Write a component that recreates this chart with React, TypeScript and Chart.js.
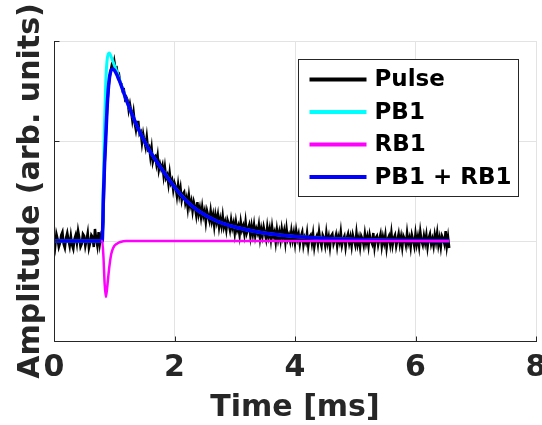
import React, { useEffect, useRef } from "react";
import { Chart, registerables } from "chart.js";

Chart.register(...registerables);

// ---- Data ----
const seriesLabels = ["Pulse", "PB1", "RB1", "PB1 + RB1"];
const seriesColors = ["#000000", "#00ffff", "#ff00ff", "#0000ff"];

const xTicks = [0, 2, 4, 6, 8];
const yTicks = [-1, 0, 1, 2];

// measured pulse, sampled every 0.02 ms from 0 ms
const pulseStart = 0;
const pulseStep = 0.02;
const pulseValues = [
  // 0.00 - 0.80 baseline
  0.04, -0.05, 0.07, 0.02, -0.06, -0.02, 0.06, 0.09, -0.03, -0.07,
  0.03, 0.08, 0.01, -0.05, 0.05, -0.04, -0.08, 0.02, 0.06, -0.02,
  0.10, 0.03, -0.06, -0.03, 0.07, 0.05, -0.05, 0.01, 0.08, -0.07,
  -0.02, 0.06, 0.04, -0.06, 0.12, 0.02, -0.05, 0.09, -0.03, 0.05,
  0.01,
  // 0.82 - 1.20 rise and peak
  0.20, 0.75, 1.05, 1.30, 1.50, 1.62, 1.70, 1.76, 1.74, 1.80,
  1.72, 1.73, 1.64, 1.66, 1.58, 1.57, 1.50, 1.51, 1.42, 1.44,
  // 1.22 - 4.00 decay
  1.41, 1.31, 1.37, 1.30, 1.21, 1.29, 1.18, 1.11, 1.19, 1.19,
  1.07, 1.09, 0.98, 1.07, 1.00, 0.94, 1.04, 0.92, 0.94, 0.84,
  0.93, 0.79, 0.84, 0.85, 0.77, 0.85, 0.71, 0.77, 0.72, 0.76,
  0.65, 0.74, 0.63, 0.66, 0.57, 0.68, 0.58, 0.61, 0.51, 0.58,
  0.54, 0.45, 0.56, 0.46, 0.53, 0.41, 0.47, 0.49, 0.38, 0.43,
  0.33, 0.45, 0.35, 0.40, 0.30, 0.39, 0.34, 0.26, 0.39, 0.27,
  0.33, 0.24, 0.34, 0.25, 0.30, 0.19, 0.30, 0.25, 0.20, 0.30,
  0.20, 0.26, 0.15, 0.26, 0.19, 0.26, 0.14, 0.22, 0.15, 0.25,
  0.14, 0.19, 0.11, 0.21, 0.17, 0.11, 0.21, 0.13, 0.18, 0.08,
  0.19, 0.11, 0.15, 0.06, 0.19, 0.11, 0.15, 0.07, 0.19, 0.08,
  0.12, 0.16, 0.05, 0.15, 0.07, 0.16, 0.05, 0.12, 0.08, 0.16,
  0.03, 0.12, 0.05, 0.14, 0.08, 0.02, 0.14, 0.05, 0.12, 0.02,
  0.14, 0.05, 0.09, -0.01, 0.11, 0.02, 0.09, 0.01, 0.12, 0.04,
  0.10, -0.01, 0.12, 0.02, 0.06, 0.00, 0.10, 0.01, 0.08, -0.02,
  // 4.02 - 6.56 tail
  0.10, 0.02, 0.07, -0.03, 0.05, 0.09, -0.04, 0.03, -0.01, 0.08,
  -0.05, 0.04, 0.06, -0.02, 0.07, -0.06, 0.02, 0.05, -0.03, 0.09,
  0.00, -0.05, 0.06, 0.03, -0.04, 0.08, -0.02, 0.04, -0.06, 0.05,
  0.07, -0.03, 0.01, 0.06, -0.05, 0.04, -0.01, 0.09, -0.04, 0.02,
  0.05, -0.06, 0.03, 0.07, -0.02, 0.04, -0.05, 0.06, 0.01, -0.04,
  0.08, -0.03, 0.03, -0.06, 0.05, 0.02, -0.04, 0.07, -0.02, 0.04,
  -0.05, 0.06, 0.00, -0.03, 0.08, -0.06, 0.03, 0.05, -0.04, 0.02,
  0.07, -0.05, 0.04, -0.02, 0.06, -0.07, 0.02, 0.05, -0.03, 0.08,
  -0.04, 0.03, 0.06, -0.05, 0.01, 0.07, -0.03, 0.04, -0.06, 0.05,
  0.02, -0.04, 0.08, -0.02, 0.03, -0.06, 0.06, 0.01, -0.05, 0.07,
  -0.03, 0.04, -0.05, 0.09, 0.00, -0.04, 0.05, -0.02, 0.06, -0.06,
  0.03, 0.07, -0.03, 0.02, -0.05, 0.06, -0.01, 0.08, -0.04, 0.03,
  -0.06, 0.05, 0.02, -0.03, 0.10, -0.05, 0.04, -0.07,
];

// fitted components
const fitTime = [
  0, 0.78, 0.8, 0.82, 0.84, 0.86, 0.88, 0.9, 0.92, 0.95, 0.975, 1.0, 1.05,
  1.1, 1.2, 1.3, 1.4, 1.5, 1.6, 1.8, 2.0, 2.2, 2.4, 2.7, 3.0, 3.3, 3.6, 4.0,
  4.5, 5.0, 5.5, 6.0, 6.56,
];
const pb1Values = [
  0, 0, 0, 0.6, 1.2, 1.6, 1.8, 1.87, 1.88, 1.84, 1.8, 1.76, 1.68,
  1.59, 1.41, 1.26, 1.12, 1.0, 0.89, 0.71, 0.54, 0.4, 0.3, 0.2, 0.14, 0.1, 0.07, 0.045,
  0.025, 0.015, 0.008, 0.005, 0.003,
];
const sumValues = [
  0, 0, 0, 0.45, 0.78, 1.04, 1.32, 1.51, 1.63, 1.71, 1.72, 1.71, 1.655,
  1.58, 1.41, 1.26, 1.12, 1.0, 0.89, 0.71, 0.54, 0.4, 0.3, 0.2, 0.14, 0.1, 0.07, 0.045,
  0.025, 0.015, 0.008, 0.005, 0.003,
];
const rb1Time = [0.78, 0.8, 0.82, 0.84, 0.86, 0.88, 0.9, 0.92, 0.95, 0.975, 1.0, 1.05, 1.1, 1.2, 6.56];
const rb1Values = [0, 0, -0.15, -0.42, -0.56, -0.48, -0.36, -0.25, -0.13, -0.08, -0.05, -0.025, -0.01, 0, 0];

// ---- Styling ----
const FONT = '"DejaVu Sans", sans-serif';
const AXIS_COLOR = "#262626";
const GRID_COLOR = "#e3e3e3";

const pairs = (xs: number[], ys: number[]) => ys.map((y, i) => ({ x: xs[i], y }));

const axesPlugin = {
  id: "matlabAxes",
  afterDraw(chart: any) {
    const { ctx, chartArea: a, scales } = chart;
    ctx.save();
    ctx.strokeStyle = AXIS_COLOR;
    ctx.lineWidth = 1;
    const L = Math.round(a.left) + 0.5;
    const B = Math.round(a.bottom) + 0.5;
    ctx.beginPath();
    ctx.moveTo(L, Math.round(a.top));
    ctx.lineTo(L, B);
    ctx.lineTo(Math.round(a.right) + 1, B);
    ctx.stroke();
    ctx.beginPath();
    xTicks.forEach((v) => {
      const px = Math.round(scales.x.getPixelForValue(v)) + 0.5;
      ctx.moveTo(px, B);
      ctx.lineTo(px, B - 5);
    });
    yTicks.forEach((v) => {
      const py = Math.round(scales.y.getPixelForValue(v)) + 0.5;
      ctx.moveTo(L, py);
      ctx.lineTo(L + 5, py);
    });
    ctx.stroke();

    // legend box (inside axes, top-right)
    ctx.font = `bold 23px ${FONT}`;
    const rowH = 32.5;
    const lineLen = 57;
    const padL = 11;
    const gap = 8;
    const padR = 8;
    const maxW = Math.max(...seriesLabels.map((t) => ctx.measureText(t).width));
    const boxW = padL + lineLen + gap + maxW + padR;
    const boxR = Math.round(a.right - 18) + 0.5;
    const boxL = Math.round(boxR - boxW) + 0.5;
    const boxT = Math.round(a.top + 18) + 0.5;
    const boxH = Math.round(20 + rowH * (seriesLabels.length - 1) + 19);
    ctx.fillStyle = "#ffffff";
    ctx.fillRect(boxL, boxT, boxR - boxL, boxH);
    ctx.strokeStyle = AXIS_COLOR;
    ctx.lineWidth = 1;
    ctx.strokeRect(boxL, boxT, boxR - boxL, boxH);
    ctx.textBaseline = "middle";
    ctx.textAlign = "left";
    seriesLabels.forEach((label, i) => {
      const y = boxT + 20 + i * rowH;
      ctx.strokeStyle = seriesColors[i];
      ctx.lineWidth = 4;
      ctx.beginPath();
      ctx.moveTo(boxL + padL, y);
      ctx.lineTo(boxL + padL + lineLen, y);
      ctx.stroke();
      ctx.fillStyle = "#000000";
      ctx.fillText(label, boxL + padL + lineLen + gap, y + 1);
    });
    ctx.restore();
  },
};

export default function App() {
  const ref = useRef<HTMLCanvasElement>(null);

  useEffect(() => {
    const pulseData = pulseValues.map((y, i) => ({ x: pulseStart + i * pulseStep, y }));
    const chart = new Chart(ref.current as HTMLCanvasElement, {
      type: "line",
      data: {
        datasets: [
          {
            label: seriesLabels[0],
            data: pulseData,
            borderColor: seriesColors[0],
            borderWidth: 2.5,
            pointRadius: 0,
            order: 4,
          },
          {
            label: seriesLabels[1],
            data: pairs(fitTime, pb1Values),
            borderColor: seriesColors[1],
            borderWidth: 3,
            pointRadius: 0,
            cubicInterpolationMode: "monotone",
            order: 3,
          },
          {
            label: seriesLabels[2],
            data: pairs(rb1Time, rb1Values),
            borderColor: seriesColors[2],
            borderWidth: 2.5,
            pointRadius: 0,
            cubicInterpolationMode: "monotone",
            order: 1,
          },
          {
            label: seriesLabels[3],
            data: pairs(fitTime, sumValues),
            borderColor: seriesColors[3],
            borderWidth: 3.5,
            pointRadius: 0,
            cubicInterpolationMode: "monotone",
            order: 2,
          },
        ],
      },
      options: {
        responsive: false,
        devicePixelRatio: 1,
        animation: false,
        layout: { padding: { left: 0, top: 41, right: 6, bottom: 0 } },
        plugins: { legend: { display: false }, tooltip: { enabled: false } },
        scales: {
          x: {
            type: "linear",
            min: 0,
            max: 8,
            afterBuildTicks: (s: any) => {
              s.ticks = xTicks.map((v) => ({ value: v }));
            },
            afterFit: (s: any) => {
              s.height = 84;
              s.paddingLeft = 0;
              s.paddingRight = 0;
            },
            ticks: {
              color: AXIS_COLOR,
              padding: 9,
              maxRotation: 0,
              autoSkip: false,
              font: { family: FONT, size: 30, weight: "bold" },
            },
            grid: { color: GRID_COLOR, drawTicks: false, lineWidth: 1 },
            border: { display: false },
            title: {
              display: true,
              text: "Time [ms]",
              color: AXIS_COLOR,
              padding: { top: 0, bottom: 2 },
              font: { family: FONT, size: 30, weight: "bold", lineHeight: 1 },
            },
          },
          y: {
            type: "linear",
            min: -1,
            max: 2,
            afterBuildTicks: (s: any) => {
              s.ticks = yTicks.map((v) => ({ value: v }));
            },
            afterFit: (s: any) => {
              s.width = 54;
              s.paddingTop = 0;
              s.paddingBottom = 0;
            },
            ticks: { display: false },
            grid: { color: GRID_COLOR, drawTicks: false, lineWidth: 1 },
            border: { display: false },
            title: {
              display: true,
              text: "Amplitude (arb. units)",
              color: AXIS_COLOR,
              padding: { top: 13, bottom: 0 },
              font: { family: FONT, size: 30, weight: "bold", lineHeight: 1.2 },
            },
          },
        },
      },
      plugins: [axesPlugin],
    });
    return () => chart.destroy();
  }, []);

  return (
    <div style={{ position: "fixed", left: 0, top: 0, width: 542, height: 425, background: "#ffffff" }}>
      <canvas ref={ref} width={542} height={425} style={{ width: 542, height: 425, display: "block" }} />
    </div>
  );
}
